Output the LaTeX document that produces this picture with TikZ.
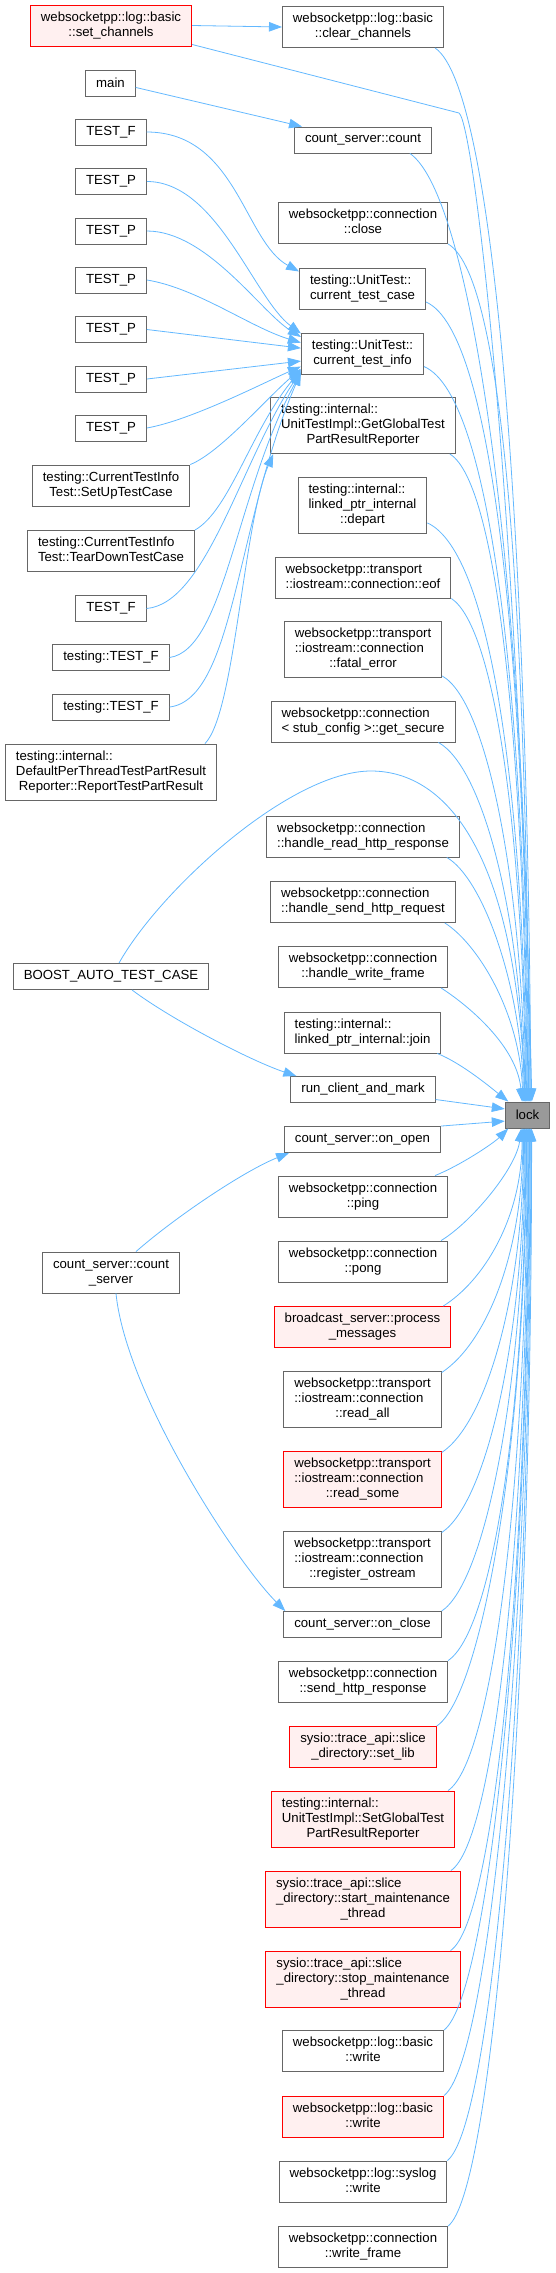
\documentclass[tikz,border=0pt]{standalone}
\usepackage{fontspec}
\setmainfont{Liberation Sans}
\usepackage{xcolor}
\usepackage{tikz}
\usetikzlibrary{arrows.meta}
\definecolor{edgeblue}{HTML}{63B8FF}
\definecolor{nodegray}{HTML}{666666}
\definecolor{nodered}{HTML}{FF0000}
\definecolor{nodepink}{HTML}{FFF0F0}
\definecolor{lockgray}{HTML}{999999}
% all lines but the last left aligned, the last one centred
\newcommand{\lbltwo}[2]{\begin{tabular}{@{}l@{}}#1\\\multicolumn{1}{@{}c@{}}{#2}\end{tabular}}
\newcommand{\lblthree}[3]{\begin{tabular}{@{}l@{}}#1\\#2\\\multicolumn{1}{@{}c@{}}{#3}\end{tabular}}

\begin{document}
\begin{tikzpicture}[
  x=1pt, y=-1pt,
  fn/.style={rectangle, draw=nodegray, fill=white, line width=0.9pt,
             inner xsep=10.5pt, inner ysep=5.5pt, minimum height=26pt,
             font=\fontsize{13.2}{15}\selectfont},
  fnred/.style={fn, draw=nodered, fill=nodepink},
  target/.style={fn, fill=lockgray},
  arr/.style={-{Triangle[length=13pt, width=9.5pt]}, draw=edgeblue, line width=0.8pt},
]
  \useasboundingbox (0,0) rectangle (556,2273);

  % callers, left column
  \node[fnred] (sc) at (111,25.5) {\lbltwo{websocketpp::log::basic}{::set\_channels}};
  \node[fn] (mn) at (110.5,83) {main};
  \node[fn] (tf1) at (111,132) {TEST\_F};
  \node[fn] (tp1) at (111,181.5) {TEST\_P};
  \node[fn] (tp2) at (111,231) {TEST\_P};
  \node[fn] (tp3) at (111,280) {TEST\_P};
  \node[fn] (tp4) at (111,329.5) {TEST\_P};
  \node[fn] (tp5) at (111,379) {TEST\_P};
  \node[fn] (tp6) at (111,428) {TEST\_P};
  \node[fn] (setup) at (111,485.5) {\lbltwo{testing::CurrentTestInfo}{Test::SetUpTestCase}};
  \node[fn] (teardown) at (111,551) {\lbltwo{testing::CurrentTestInfo}{Test::TearDownTestCase}};
  \node[fn] (tf2) at (111,608.5) {TEST\_F};
  \node[fn] (ttf1) at (111,657.5) {testing::TEST\_F};
  \node[fn] (ttf2) at (111,707) {testing::TEST\_F};
  \node[fn] (dpt) at (111,772) {\lblthree{testing::internal::}{DefaultPerThreadTestPartResult}{Reporter::ReportTestPartResult}};
  \node[fn] (boost) at (111,976.5) {BOOST\_AUTO\_TEST\_CASE};
  \node[fn] (cs) at (111,1272.5) {\lbltwo{count\_server::count}{\_server}};

  % callers, middle column
  \node[fn] (cc) at (363,27) {\lbltwo{websocketpp::log::basic}{::clear\_channels}};
  \node[fn] (cnt) at (363,140) {count\_server::count};
  \node[fn] (close) at (363,223) {\lbltwo{websocketpp::connection}{::close}};
  \node[fn] (ctc) at (362.5,288.5) {\lbltwo{testing::UnitTest::}{current\_test\_case}};
  \node[fn] (cti) at (362.5,353.5) {\lbltwo{testing::UnitTest::}{current\_test\_info}};
  \node[fn] (ggr) at (363,425.5) {\lblthree{testing::internal::}{UnitTestImpl::GetGlobalTest}{PartResultReporter}};
  \node[fn] (dep) at (362.5,505.5) {\lblthree{testing::internal::}{linked\_ptr\_internal}{::depart}};
  \node[fn] (eof) at (363,577.5) {\lbltwo{websocketpp::transport}{::iostream::connection::eof}};
  \node[fn] (fat) at (363,649.5) {\lblthree{websocketpp::transport}{::iostream::connection}{::fatal\_error}};
  \node[fn] (gsec) at (363,721.5) {\lbltwo{websocketpp::connection}{< stub\_config >::get\_secure}};
  \node[fn] (hrr) at (363,836.5) {\lbltwo{websocketpp::connection}{::handle\_read\_http\_response}};
  \node[fn] (hsr) at (363,902) {\lbltwo{websocketpp::connection}{::handle\_send\_http\_request}};
  \node[fn] (hwf) at (363,967) {\lbltwo{websocketpp::connection}{::handle\_write\_frame}};
  \node[fn] (join) at (362.5,1032.5) {\lbltwo{testing::internal::}{linked\_ptr\_internal::join}};
  \node[fn] (rcm) at (363,1089.5) {run\_client\_and\_mark};
  \node[fn] (oop) at (362.5,1139.5) {count\_server::on\_open};
  \node[fn] (ping) at (363,1196.5) {\lbltwo{websocketpp::connection}{::ping}};
  \node[fn] (pong) at (363,1261.5) {\lbltwo{websocketpp::connection}{::pong}};
  \node[fnred] (pm) at (362.5,1327) {\lbltwo{broadcast\_server::process}{\_messages}};
  \node[fn] (rall) at (362.5,1399) {\lblthree{websocketpp::transport}{::iostream::connection}{::read\_all}};
  \node[fnred] (rsome) at (362.5,1479) {\lblthree{websocketpp::transport}{::iostream::connection}{::read\_some}};
  \node[fn] (rost) at (362.5,1559) {\lblthree{websocketpp::transport}{::iostream::connection}{::register\_ostream}};
  \node[fn] (ocl) at (362.5,1624.5) {count\_server::on\_close};
  \node[fn] (shr) at (363,1681.5) {\lbltwo{websocketpp::connection}{::send\_http\_response}};
  \node[fnred] (slib) at (363,1747) {\lbltwo{sysio::trace\_api::slice}{\_directory::set\_lib}};
  \node[fnred] (sgr) at (363,1819) {\lblthree{testing::internal::}{UnitTestImpl::SetGlobalTest}{PartResultReporter}};
  \node[fnred] (smt) at (363,1899) {\lblthree{sysio::trace\_api::slice}{\_directory::start\_maintenance}{\_thread}};
  \node[fnred] (spt) at (363,1979) {\lblthree{sysio::trace\_api::slice}{\_directory::stop\_maintenance}{\_thread}};
  \node[fn] (bw1) at (363,2051) {\lbltwo{websocketpp::log::basic}{::write}};
  \node[fnred] (bw2) at (363,2116.5) {\lbltwo{websocketpp::log::basic}{::write}};
  \node[fn] (sw) at (363,2181.5) {\lbltwo{websocketpp::log::syslog}{::write}};
  \node[fn] (wf) at (363,2247) {\lbltwo{websocketpp::connection}{::write\_frame}};

  % the function itself
  \node[target] (lock) at (527.5,1115) {lock};

  % left column -> middle column
  \draw[arr] (sc.east) -- (cc.west);
  \draw[arr] (mn.-10) -- ([xshift=8pt]cnt.north west);
  \draw[arr] (tf1.east) .. controls +(90,0) and +(-55,-30) .. (ctc.165);
  \draw[arr] (tp1.east) .. controls +(70,0) and +(-47,-35) .. (cti.162);
  \draw[arr] (tp2.east) .. controls +(60,0) and +(-40,-25) .. (cti.165);
  \draw[arr] (tp3.east) .. controls +(50,8) and +(-50,-15) .. (cti.170);
  \draw[arr] (tp4.east) -- (cti.175);
  \draw[arr] (tp5.east) -- (cti.187);
  \draw[arr] (tp6.east) .. controls +(45,-8) and +(-35,15) .. (cti.192);
  \draw[arr] (setup.north east) .. controls +(30,-12) and +(-35,30) .. (cti.194);
  \draw[arr] (teardown.north east) .. controls +(35,-20) and +(-50,60) .. (cti.195);
  \draw[arr] (tf2.east) .. controls +(60,-5) and +(-60,90) .. (cti.196);
  \draw[arr] (ttf1.east) .. controls +(55,-8) and +(-65,120) .. (cti.197);
  \draw[arr] (ttf2.east) .. controls +(65,-8) and +(-65,150) .. (cti.197);
  \draw[arr] ([xshift=-12pt]dpt.north east) .. controls +(30,-30) and +(-30,70) .. ([xshift=3pt]ggr.south west);
  \draw[arr] ([xshift=21pt]boost.south) .. controls +(40,30) and +(-45,-15) .. ([xshift=6pt]rcm.north west);
  \draw[arr] ([xshift=25pt]cs.north) .. controls +(40,-35) and +(-45,18) .. ([xshift=5pt]oop.south west);
  \draw[arr] ([xshift=5pt]cs.south) .. controls +(10,100) and +(-50,-50) .. ([xshift=2pt]ocl.north west);

  % into lock from above
  \draw[arr] ([yshift=2pt]sc.south east) -- (459,113) .. controls (474,124) and (518,500) .. (lock.72);
  \draw[arr] ([xshift=8pt]boost.north) .. controls (160,890) and (290,771) .. (371,771)
             .. controls (440,771) and (515,840) .. (lock.100);
  \draw[arr] ([xshift=-9pt]cc.south east) .. controls +(60,40) and +(-3,-560) .. (lock.76);
  \draw[arr] ([xshift=-22pt]cnt.south east) .. controls +(65,45) and +(-3,-500) .. (lock.79);
  \draw[arr] (close.south east) .. controls +(60,35) and +(-3,-450) .. (lock.82);
  \draw[arr] (ctc.-12) .. controls +(70,30) and +(-3,-420) .. (lock.85);
  \draw[arr] (cti.-12) .. controls +(70,30) and +(-3,-380) .. (lock.88);
  \draw[arr] ([xshift=-6pt]ggr.south east) .. controls +(50,30) and +(-3,-330) .. (lock.91);
  \draw[arr] (dep.-15) .. controls +(65,30) and +(-3,-300) .. (lock.94);
  \draw[arr] (eof.south east) .. controls +(45,30) and +(-3,-260) .. (lock.97);
  \draw[arr] ([yshift=2pt]fat.south east) .. controls +(45,25) and +(-3,-220) .. (lock.100);
  \draw[arr] ([xshift=-17pt]gsec.south east) .. controls +(45,25) and +(-3,-185) .. (lock.103);
  \draw[arr] ([xshift=-13pt]hrr.south east) .. controls +(35,20) and +(-3,-120) .. (lock.106);
  \draw[arr] ([xshift=-11pt]hsr.south east) .. controls +(32,20) and +(-3,-90) .. (lock.109);
  \draw[arr] ([xshift=-7pt]hwf.south east) .. controls +(28,18) and +(-5,-55) .. (lock.112);
  \draw[arr] ([xshift=-4pt]join.south east) .. controls +(25,10) and +(-15,-12) .. (lock.145);

  % into lock from the side
  \draw[arr] ([yshift=-10pt]rcm.east) -- (lock.165);
  \draw[arr] (oop.north east) -- (lock.195);
  \draw[arr] ([xshift=-13pt]ping.north east) .. controls +(25,-10) and +(-15,15) .. (lock.215);

  % into lock from below
  \draw[arr] ([xshift=-7pt]pong.north east) .. controls +(30,-18) and +(-5,40) .. (lock.-115);
  \draw[arr] ([xshift=-8pt]pm.north east) .. controls +(40,-25) and +(0,90) .. (lock.-112);
  \draw[arr] ([yshift=-2pt]rall.north east) .. controls +(45,-30) and +(0,125) .. (lock.-109);
  \draw[arr] ([yshift=-2pt]rsome.north east) .. controls +(45,-30) and +(0,165) .. (lock.-106);
  \draw[arr] ([yshift=-2pt]rost.north east) .. controls +(45,-30) and +(0,210) .. (lock.-103);
  \draw[arr] (ocl.north east) .. controls +(45,-30) and +(0,250) .. (lock.-100);
  \draw[arr] (shr.north east) .. controls +(45,-30) and +(0,280) .. (lock.-97);
  \draw[arr] (slib.north east) .. controls +(45,-30) and +(0,315) .. (lock.-94);
  \draw[arr] ([xshift=-7pt]sgr.north east) .. controls +(45,-30) and +(0,350) .. (lock.-91);
  \draw[arr] ([xshift=-10pt]smt.north east) .. controls +(45,-30) and +(0,390) .. (lock.-88);
  \draw[arr] ([xshift=-10pt]spt.north east) .. controls +(45,-30) and +(0,430) .. (lock.-85);
  \draw[arr] (bw1.north east) .. controls +(45,-35) and +(0,470) .. (lock.-82);
  \draw[arr] (bw2.north east) .. controls +(45,-35) and +(0,510) .. (lock.-79);
  \draw[arr] (sw.north east) .. controls +(45,-35) and +(0,545) .. (lock.-76);
  \draw[arr] (wf.north east) .. controls +(45,-35) and +(0,580) .. (lock.-73);
\end{tikzpicture}
\end{document}
